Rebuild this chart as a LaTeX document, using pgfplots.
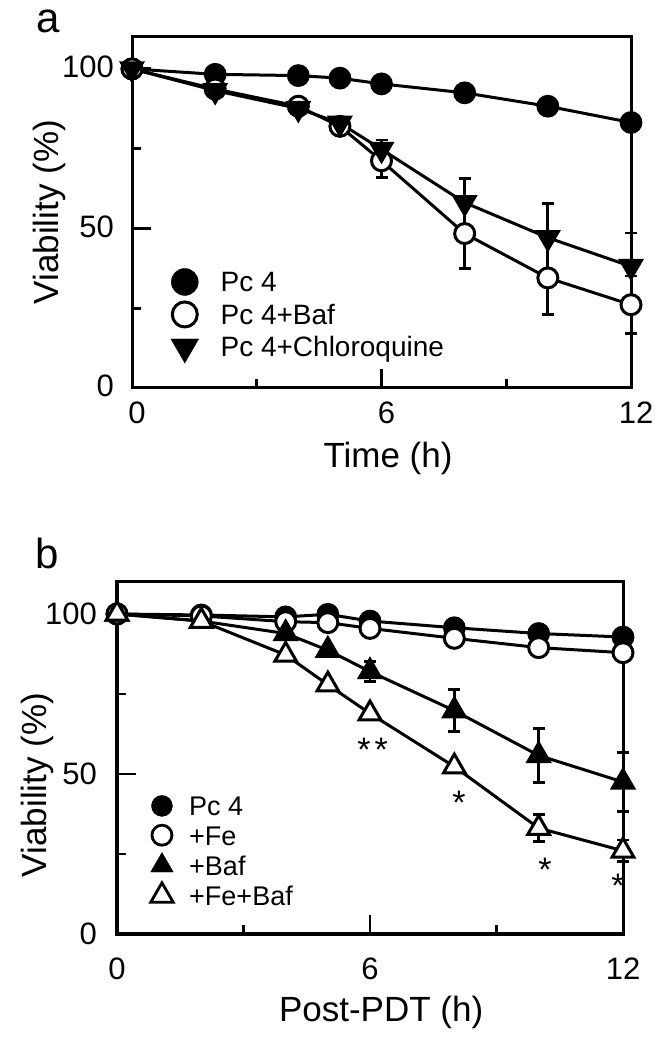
\documentclass[border=0pt]{standalone}
\usepackage{fontspec}
\setmainfont{Liberation Sans}
\usepackage{pgfplots}
\pgfplotsset{compat=1.18}
\tikzset{starnode/.style={font=\fontsize{34bp}{40bp}\selectfont, anchor=base, yshift=-19bp}}
\pgfplotsset{
  panel/.style={
    scale only axis, clip=false,
    xmin=0, xmax=12, ymin=0, ymax=110,
    xtick={0,6,12}, minor xtick={3,9},
    ytick={0,50,100}, minor ytick={25,75},
    tick align=inside, xtick pos=bottom, ytick pos=left,
    major tick length=19bp, minor tick length=9bp,
    every tick/.style={black, line width=2.8bp},
    axis line style={line width=3bp, black},
    /pgf/number format/assume math mode=true,
    tick label style={font=\fontsize{31bp}{36bp}\selectfont, inner sep=0pt},
    label style={font=\fontsize{35bp}{40bp}\selectfont},
    legend image code/.code={\draw[##1] plot coordinates {(0bp,10bp)};},
  },
  series/.style={black, line width=3bp, mark options={solid, line width=2.8bp}},
  ebar/.style={error bars/.cd, y dir=both, y explicit, error mark=-,
    error bar style={line width=2.8bp, black, solid},
    error mark options={rotate=90, mark size=6bp, line width=2.8bp, black, solid}},
}
\begin{document}
\begin{tikzpicture}
\useasboundingbox (0,0) rectangle (666bp,1050bp);
\node[font=\fontsize{42bp}{48bp}\selectfont, anchor=base] at (48bp,1017bp) {a};
\node[font=\fontsize{42bp}{48bp}\selectfont, anchor=base] at (47bp,481bp) {b};
% Panel a
\begin{axis}[panel, at={(132bp,662bp)}, anchor=south west, width=499bp, height=351bp,
  xticklabel style={anchor=north, yshift=-14bp, xshift=5bp},
  yticklabel style={anchor=east, xshift=-18bp, yshift=2bp},
  xlabel={Time (h)}, ylabel={Viability (\%)},
  xlabel style={at={(axis description cs:0.513,-0.202)}, anchor=center},
  ylabel style={at={(axis description cs:-0.166,0.501)}, anchor=center},
  legend style={at={(axis description cs:0.078,0.342)}, anchor=north west,
    draw=none, fill=none, inner sep=0pt, outer sep=0pt,
    row sep=0.5bp, column sep=22bp, font=\fontsize{28bp}{32bp}\selectfont,
    nodes={inner sep=0pt, text height=24bp, text depth=8bp},
    cells={anchor=base west}},
]
\addplot[series, mark=*, mark size=10bp, forget plot] coordinates {
 (0,100) (2,98.3) (4,97.9) (5,97.1) (6,95.3) (8,92.5) (10,88.3) (12,83.2)};
\addplot[series, mark=*, mark size=10bp, mark options={fill=white}, forget plot, ebar]
 table[x=x, y=y, y error=e] {
 x y e
 0 100 0
 2 93.7 0
 4 88.3 0
 5 82 0
 6 71.2 5.3
 8 48.4 11
 10 34.5 11.5
 12 26.1 9
};
\addplot[series, mark=triangle*, mark size=12bp, mark options={rotate=180}, forget plot, ebar]
 table[x=x, y=y, y error=e] {
 x y e
 0 100 0
 2 93.2 0
 4 87.6 0
 5 83 0
 6 74.8 2.9
 8 58.1 7.6
 10 47.1 10.7
 12 38.1 10.5
};
\addlegendimage{only marks, black, mark=*, mark size=13.5bp}
\addlegendentry{Pc 4}
\addlegendimage{only marks, black, mark=*, mark size=12.5bp, mark options={fill=white, line width=3bp}}
\addlegendentry{Pc 4+Baf}
\addlegendimage{only marks, black, mark=triangle*, mark size=16bp, mark options={rotate=180}}
\addlegendentry{Pc 4+Chloroquine}
\end{axis}
% Panel b
\begin{axis}[panel, at={(117bp,116bp)}, anchor=south west, width=506bp, height=352bp,
  xticklabel style={anchor=north, yshift=-24bp},
  yticklabel style={anchor=east, xshift=-20bp},
  xlabel={Post-PDT (h)}, ylabel={Viability (\%)},
  xlabel style={at={(axis description cs:0.522,-0.222)}, anchor=center},
  ylabel style={at={(axis description cs:-0.157,0.423)}, anchor=center},
  legend style={at={(axis description cs:0.0666,0.398)}, anchor=north west,
    draw=none, fill=none, inner sep=0pt, outer sep=0pt,
    row sep=0.3bp, column sep=16bp, font=\fontsize{27bp}{32bp}\selectfont,
    nodes={inner sep=0pt, text height=22bp, text depth=7bp},
    cells={anchor=base west}},
]
\addplot[series, mark=*, mark size=10bp, forget plot] coordinates {
 (0,100) (2,99.7) (4,99.1) (5,99.9) (6,97.8) (8,95.7) (10,93.9) (12,92.8)};
\addplot[series, mark=*, mark size=10bp, mark options={fill=white}, forget plot] coordinates {
 (0,100) (2,99.4) (4,97.6) (5,97.3) (6,95.5) (8,92.4) (10,89.5) (12,87.9)};
\addplot[series, mark=triangle*, mark size=12.5bp, forget plot, ebar]
 table[x=x, y=y, y error=e] {
 x y e
 0 100 0
 2 97.8 0
 4 93.9 0
 5 88.7 0
 6 82 3.1
 8 69.8 6.6
 10 55.8 8.4
 12 47.5 9.2
};
\addplot[series, mark=triangle*, mark size=12.5bp, mark options={fill=white}, forget plot, ebar]
 table[x=x, y=y, y error=e] {
 x y e
 0 100 0
 2 97.8 0
 4 87.2 0
 5 77.9 0
 6 68.9 0
 8 52.3 0
 10 33.1 4.2
 12 26 3.4
};
\addlegendimage{only marks, black, mark=*, mark size=10.5bp}
\addlegendentry{Pc 4}
\addlegendimage{only marks, black, mark=*, mark size=10bp, mark options={fill=white, line width=2.8bp}}
\addlegendentry{+Fe}
\addlegendimage{only marks, black, mark=triangle*, mark size=13bp}
\addlegendentry{+Baf}
\addlegendimage{only marks, black, mark=triangle*, mark size=13bp, mark options={fill=white, line width=2.8bp}}
\addlegendentry{+Fe+Baf}
\node[starnode] at (axis cs:6.06,59.9) {*\kern4bp*};
\node[starnode] at (axis cs:8.11,43.3) {*};
\node[starnode] at (axis cs:10.15,22.5) {*};
\node[starnode] at (axis cs:11.88,17.3) {*};
\end{axis}
\end{tikzpicture}
\end{document}
